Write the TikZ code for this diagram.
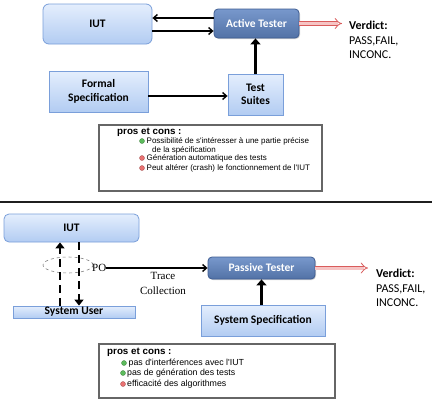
\documentclass[tikz,border=0pt]{standalone}
\usepackage{fontspec}
\setmainfont{Carlito}
\newfontfamily\arialf{Liberation Sans}
\newfontfamily\timesf{Liberation Serif}
\usetikzlibrary{arrows.meta,shapes.geometric,shadows}
\definecolor{lbTop}{HTML}{E4EEFD}
\definecolor{lbBot}{HTML}{B2CCF2}
\definecolor{lbLine}{HTML}{7A9FDA}
\definecolor{dbTop}{HTML}{7898CC}
\definecolor{dbBot}{HTML}{5272A6}
\definecolor{dbLine}{HTML}{3F5D92}
\definecolor{goodc}{HTML}{5DBB5D}
\definecolor{badc}{HTML}{E97272}
\definecolor{redline}{HTML}{D95C5C}
\definecolor{pinkfill}{HTML}{F6C4C4}
\tikzset{
  lightbox/.style={draw=lbLine, line width=0.8pt, top color=lbTop, bottom color=lbBot,
    font=\fontsize{11.5}{13.5}\selectfont\bfseries, align=center, inner sep=0pt},
  testerbox/.style={draw=dbLine, line width=0.8pt, top color=dbTop, bottom color=dbBot,
    rounded corners=4pt, text=white, font=\fontsize{11.5}{13.5}\selectfont\bfseries, inner sep=0pt,
    drop shadow={shadow xshift=1pt, shadow yshift=-1pt, opacity=0.35}},
  thinarr/.style={line width=1.4pt, -{Straight Barb[length=4pt,width=7pt]}},
  fatarr/.style={line width=3.5pt, -{Triangle[length=6pt,width=10pt]}},
  verdictarr/.style={draw=redline, double=pinkfill, double distance=3pt, line width=0.8pt,
    -{Implies[length=4pt]}},
  dasharr/.style={line width=2.5pt, dash pattern=on 8pt off 5pt, -{Triangle[length=6pt,width=9pt]}},
  prosbox/.style={draw=gray!80!black, line width=1.1pt, fill=white, inner sep=0pt},
  protxt/.style={anchor=west, inner sep=0pt, font=\arialf\fontsize{8}{9}\selectfont},
  protxtb/.style={anchor=west, inner sep=0pt, font=\arialf\fontsize{8.8}{10}\selectfont},
  prohead/.style={anchor=west, inner sep=0pt, font=\arialf\fontsize{9.8}{11}\selectfont\bfseries},
  good/.style={circle, fill=goodc, draw=goodc!70!black, line width=0.3pt, inner sep=0pt, minimum size=5pt},
  bad/.style={circle, fill=badc, draw=badc!70!black, line width=0.3pt, inner sep=0pt, minimum size=5pt},
  verdict/.style={anchor=west, align=left, inner sep=0pt, font=\fontsize{12}{14.5}\selectfont},
}
\begin{document}
\begin{tikzpicture}[x=1pt,y=-1pt]
\useasboundingbox (0,0) rectangle (432,400);
\fill[white] (0,0) rectangle (432,400);

% ---------- top (active testing) ----------
\node[lightbox, rounded corners=6pt, minimum width=109pt, minimum height=40pt] (iut1) at (97.5,24) {IUT};
\node[testerbox, minimum width=85pt, minimum height=29pt] (at) at (256.5,23.5) {Active Tester};
\node[lightbox, minimum width=99pt, minimum height=41pt] (fs) at (98.5,91.5) {Formal\\Specification};
\node[lightbox, minimum width=55pt, minimum height=41pt] (ts) at (255.5,94.5) {Test\\Suites};
\coordinate (v1end) at (342,23.5);
\node[verdict] (v1) at (349,40) {\textbf{Verdict:}\\PASS,FAIL,\\INCONC.};

\draw[thinarr] ([yshift=5.5pt]at.west) -- ([yshift=5.5pt]at.west -| iut1.east);
\draw[thinarr] ([yshift=-7.5pt]at.west -| iut1.east) -- ([yshift=-7.5pt]at.west);
\draw[thinarr] ([yshift=-4.5pt]fs.east) -- ([yshift=-4.5pt]fs.east -| ts.west);
\draw[fatarr] (ts.north) -- (ts.north |- at.south);
\draw[verdictarr] (at.east) -- (v1end);

\node[prosbox, minimum width=223pt, minimum height=66pt] (pc1) at (210.5,158) {};
\node[prohead] (pc1h) at (117,132) {pros et cons :};
\node[good] (b11) at (142,141) {};
\node[bad] (b12) at (142,158) {};
\node[bad] (b13) at (142,168) {};
\node[protxt] (t11) at (146.5,141) {Possibilité de s'intéresser à une partie précise};
\node[protxt] (t11b) at (152,150) {de la spécification};
\node[protxt] (t12) at (146.5,158) {Génération automatique des tests};
\node[protxt] (t13) at (146.5,168) {Peut altérer (crash) le fonctionnement de l'IUT};

% ---------- separator ----------
\draw[line width=2pt, black!88] (0,202) -- (432,202);

% ---------- bottom (passive testing) ----------
\node[lightbox, rounded corners=5pt, minimum width=135pt, minimum height=28pt] (iut2) at (71.5,228) {IUT};
\node[lightbox, minimum width=122pt, minimum height=12pt] (su) at (74,312) {System User};
\node[draw=gray, dashed, line width=0.6pt, ellipse, minimum width=50pt, minimum height=16pt, inner sep=0pt] (poel) at (68,265) {};
\node[anchor=west, inner sep=0pt, font=\timesf\fontsize{11}{12}\selectfont] (po) at (92,268) {PO};
\node[testerbox, minimum width=107pt, minimum height=22pt] (pt) at (261.5,268) {Passive Tester};
\node[align=center, inner sep=0pt, font=\timesf\fontsize{11}{15}\selectfont] (tc) at (163,283.5) {Trace\\Collection};
\node[lightbox, minimum width=124pt, minimum height=31pt] (ss) at (263,320.5) {System Specification};
\coordinate (v2end) at (368,268);
\node[verdict] (v2) at (376,288) {\textbf{Verdict:}\\PASS,FAIL,\\INCONC.};

\draw[dasharr] ([xshift=-14pt]su.north) -- ([xshift=-14pt]su.north |- iut2.south);
\draw[dasharr] ([xshift=5pt]su.north |- iut2.south) -- ([xshift=5pt]su.north);
\draw[thinarr] (po.east) -- (pt.west);
\draw[fatarr] (pt.south |- ss.north) -- (pt.south);
\draw[verdictarr] (pt.east) -- (v2end);

\node[prosbox, minimum width=236pt, minimum height=54pt] (pc2) at (217,371) {};
\node[prohead] (pc2h) at (107,352) {pros et cons :};
\node[good] (b21) at (124,363) {};
\node[good] (b22) at (123,373) {};
\node[bad] (b23) at (123,384) {};
\node[protxtb] (t21) at (128.5,363) {pas d'interférences avec l'IUT};
\node[protxtb] (t22) at (127,373) {pas de génération des tests};
\node[protxtb] (t23) at (127,384) {efficacité des algorithmes};
\end{tikzpicture}
\end{document}
